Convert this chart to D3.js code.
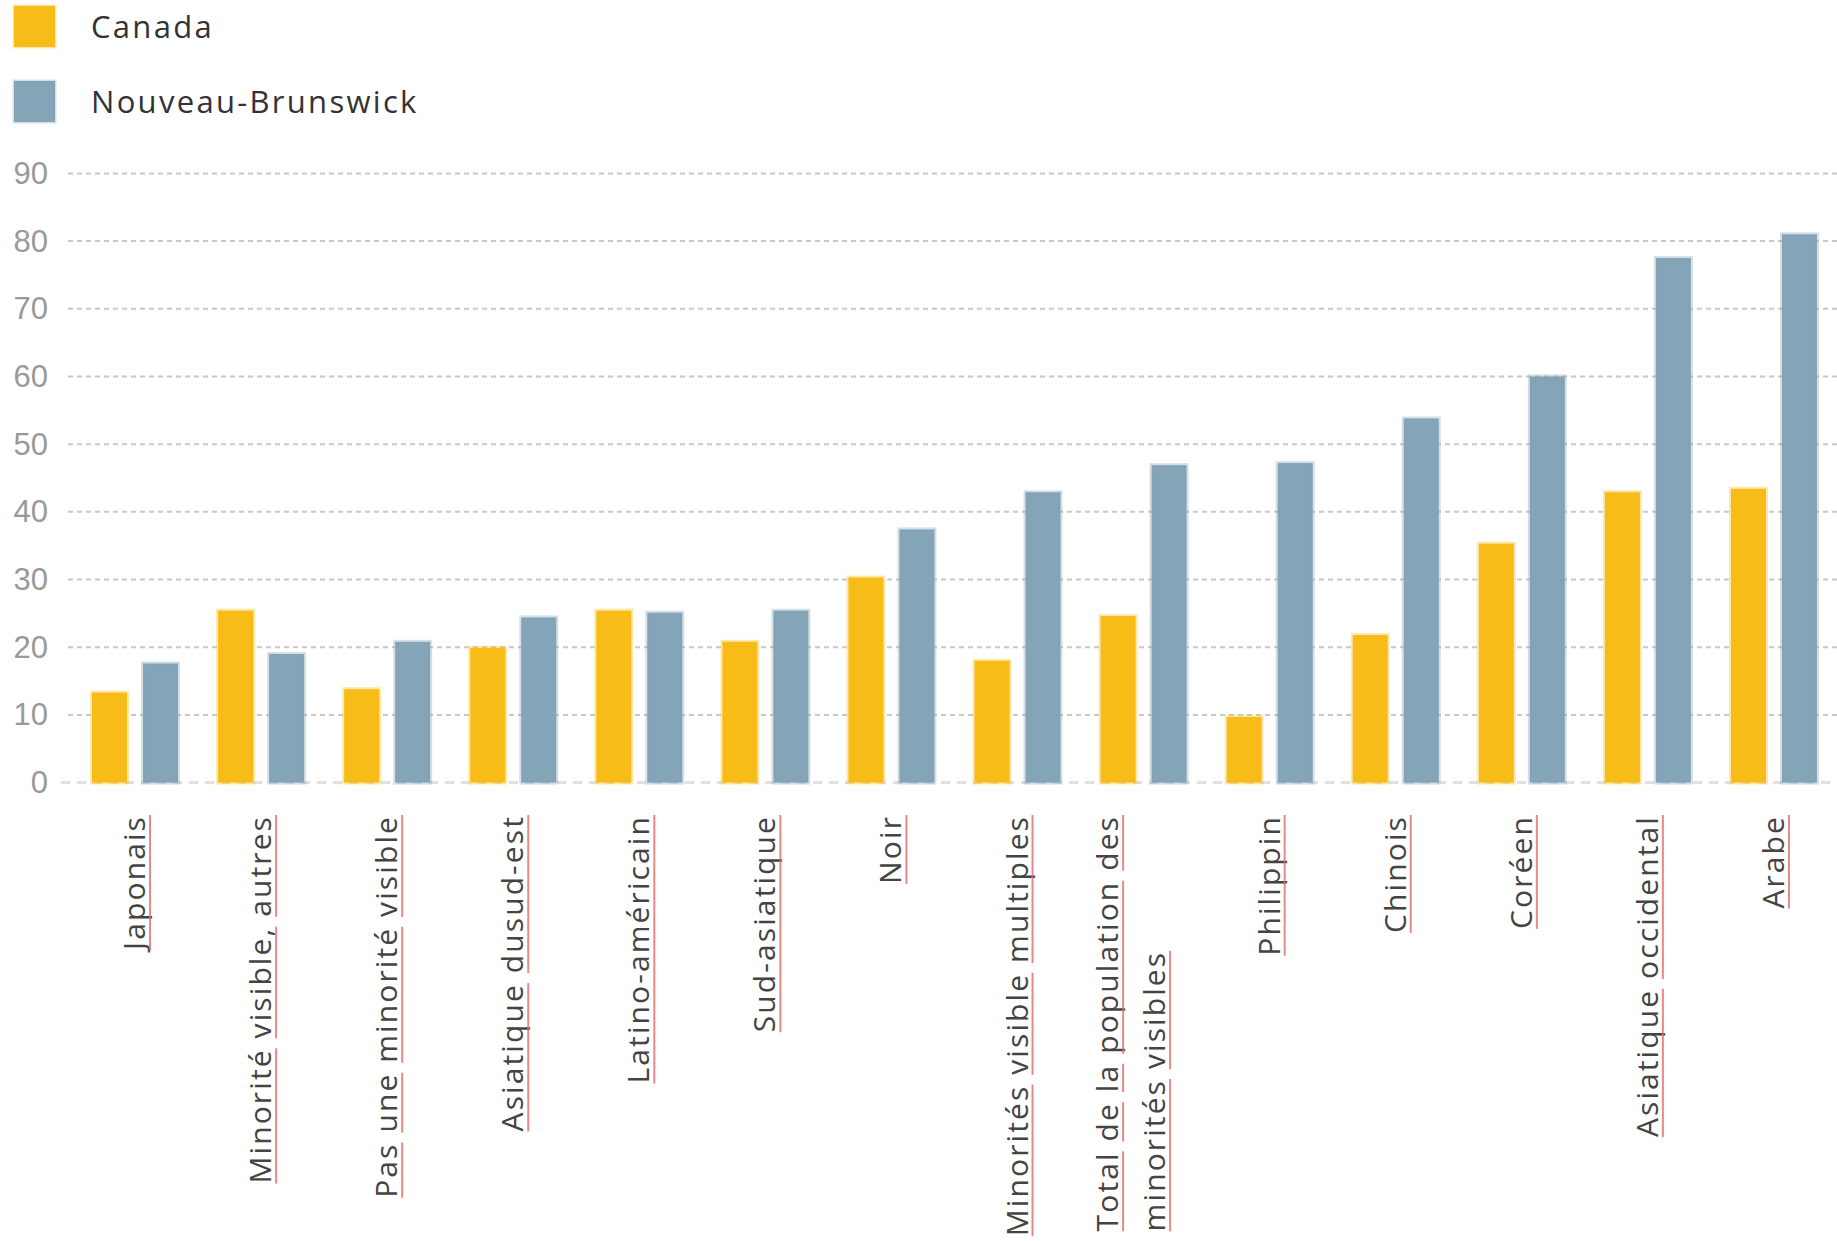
<!DOCTYPE html>
<html>
<head>
<meta charset="utf-8">
<script src="https://cdn.jsdelivr.net/npm/d3@7"></script>
<style>
    body { margin: 0; background: #fff; }
    svg { display: block; font-family: "Open Sans", sans-serif; }
    .grid { stroke: #c8c8c8; stroke-width: 2; stroke-dasharray: 5,4; }
    .grid.zero { stroke: #e0e0e0; stroke-dasharray: 9,7; stroke-width: 3; }
    .yAxis text { fill: #999; font-size: 31px; }
    .yAxis path { display: none; }
    .xLabel { fill: #444; font-size: 30px; letter-spacing: 2.1px; }
    .squiggle { stroke: #e06c6c; stroke-width: 2; opacity: 0.8; }
    .legend text { fill: #333; font-size: 31px; letter-spacing: 2.3px; }
</style>
</head>
<body>
<div class="container"></div>
<script>
const WIDTH = 1837;
const HEIGHT = 1241;

const PLOT_LEFT = 72;
const PLOT_RIGHT = 1837;
const PLOT_TOP = 173.4;
const PLOT_BOTTOM = 782.6;

// data
var categories = [
    "Japonais",
    "Minorité visible, autres",
    "Pas une minorité visible",
    "Asiatique dusud-est",
    "Latino-américain",
    "Sud-asiatique",
    "Noir",
    "Minorités visible multiples",
    "Total de la population des minorités visibles",
    "Philippin",
    "Chinois",
    "Coréen",
    "Asiatique occidental",
    "Arabe"
];
var seriesNames = ["Canada", "Nouveau-Brunswick"];
var canadaValues = [13.3, 25.4, 13.8, 19.9, 25.4, 20.8, 30.3, 18.0, 24.6, 9.7, 21.8, 35.3, 42.9, 43.4];
var nbValues = [17.6, 19.0, 20.8, 24.4, 25.1, 25.4, 37.4, 42.9, 46.9, 47.2, 53.8, 60.0, 77.5, 81.0];
var yTicks = [0, 10, 20, 30, 40, 50, 60, 70, 80, 90];

var colors = ["#f7bc17", "#84a4b7"];

var translate = function (x, y) {
    return "translate(" + x + "," + y + ")";
};

var loadChart = function () {
    var svg = d3.select('.container').append('svg')
        .attr('width', WIDTH)
        .attr('height', HEIGHT);

    var yScale = d3.scaleLinear()
        .domain([0, 90])
        .range([PLOT_BOTTOM, PLOT_TOP]);

    var xScale = d3.scaleBand()
        .domain(categories)
        .range([PLOT_LEFT, PLOT_RIGHT])
        .paddingInner(0.318)
        .paddingOuter(0.159);

    var xInner = d3.scaleBand()
        .domain(seriesNames)
        .range([0, xScale.bandwidth()])
        .paddingInner(0.3137);

    var color = d3.scaleOrdinal().domain(seriesNames).range(colors);

    // legend
    var legend = svg.append('g').classed('legend', true);
    var item = legend.selectAll('g')
        .data(seriesNames)
        .enter().append('g')
        .attr('transform', function (d, i) { return translate(14, 6 + i * 75); });
    item.append('rect')
        .attr('width', 41)
        .attr('height', 41)
        .attr('fill', function (d) { return color(d); })
        .attr('stroke', function (d) { return color(d); })
        .attr('stroke-opacity', 0.35)
        .attr('stroke-width', 3);
    item.append('text')
        .attr('x', 77)
        .attr('y', 21)
        .attr('dy', '0.35em')
        .text(function (d) { return d; });

    // y axis + grid
    var yAxis = d3.axisLeft(yScale).tickValues(yTicks).tickSize(0).tickPadding(4);
    svg.append('g')
        .attr('transform', translate(52, 0))
        .classed('yAxis', true)
        .call(yAxis);

    svg.append('g').selectAll('line')
        .data(yTicks)
        .enter().append('line')
        .attr('x1', function (d) { return d === 0 ? 61 : 68; })
        .attr('x2', WIDTH)
        .attr('y1', function (d) { return yScale(d); })
        .attr('y2', function (d) { return yScale(d); })
        .attr('class', function (d) { return d === 0 ? 'grid zero' : 'grid'; });

    // bars
    var rows = categories.map(function (c, i) {
        return { cat: c, values: [canadaValues[i], nbValues[i]] };
    });
    var group = svg.append('g').selectAll('g')
        .data(rows)
        .enter().append('g')
        .attr('transform', function (d) { return translate(xScale(d.cat), 0); });
    group.selectAll('rect')
        .data(function (d) {
            return seriesNames.map(function (s, j) { return { key: s, value: d.values[j] }; });
        })
        .enter().append('rect')
        .attr('x', function (d) { return xInner(d.key); })
        .attr('width', xInner.bandwidth())
        .attr('y', function (d) { return yScale(d.value); })
        .attr('height', function (d) { return PLOT_BOTTOM - yScale(d.value); })
        .attr('fill', function (d) { return color(d.key); })
        .attr('stroke', function (d) { return color(d.key); })
        .attr('stroke-opacity', 0.35)
        .attr('stroke-width', 4);

    // rotated category labels, with the red word underlines
    var LABEL_TOP = 815;
    var WRAP = 480;
    categories.forEach(function (cat) {
        var cx = xScale(cat) + xScale.bandwidth() / 2;
        var g = svg.append('g')
            .attr('transform', translate(cx, LABEL_TOP) + ' rotate(-90)');

        // wrap into lines
        var words = cat.split(' ');
        var probe = g.append('text').classed('xLabel', true);
        var lines = [], cur = [];
        words.forEach(function (w) {
            var trial = cur.concat([w]);
            probe.text(trial.join(' '));
            if (probe.node().getComputedTextLength() > WRAP && cur.length) {
                lines.push(cur);
                cur = [w];
            } else {
                cur = trial;
            }
        });
        lines.push(cur);
        probe.remove();

        var lineH = 47;
        var firstY = 10 - (lines.length - 1) * (lineH / 2 + 12);
        var startX = null;
        lines.forEach(function (lineWords, li) {
            var t = g.append('text')
                .classed('xLabel', true)
                .attr('y', firstY + li * lineH);
            lineWords.forEach(function (w, wi) {
                t.append('tspan').text((wi > 0 ? ' ' : '') + w);
            });
            var len = t.node().getComputedTextLength();
            if (li === 0) {
                startX = -len;
            }
            t.attr('x', startX);
            // underline each word
            t.selectAll('tspan').each(function (w, wi) {
                var node = this;
                var n = node.getNumberOfChars();
                var off = wi > 0 ? 1 : 0;
                var s = node.getStartPositionOfChar(off);
                var e = node.getEndPositionOfChar(n - 1);
                g.append('line')
                    .classed('squiggle', true)
                    .attr('x1', s.x)
                    .attr('x2', e.x)
                    .attr('y1', firstY + li * lineH + 5)
                    .attr('y2', firstY + li * lineH + 5);
            });
        });
    });
};

window.onload = function () {
    loadChart();
};
</script>
</body>
</html>
